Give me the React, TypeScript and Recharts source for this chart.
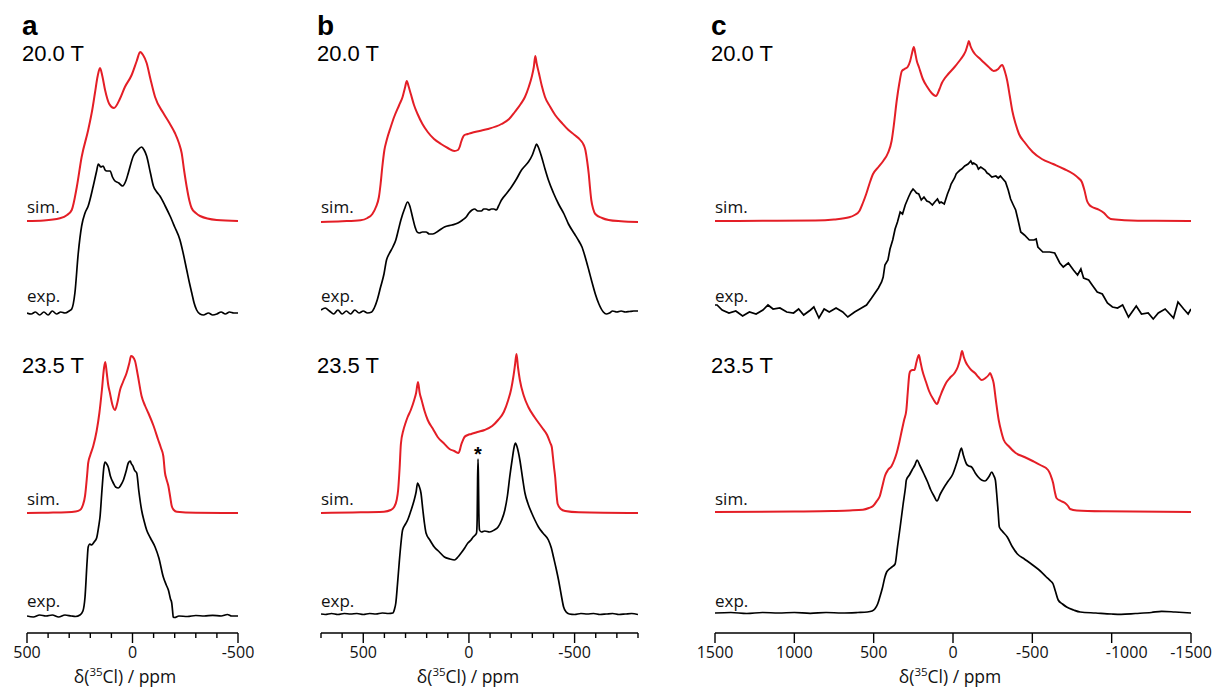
import { LineChart, Line, XAxis, YAxis, ReferenceDot } from 'recharts';

// [chemical shift in ppm, intensity in a.u.]
type Pt = [number, number];

const A_SIM_20: Pt[] = [
  [500, 0], [420, 0.5], [344, 2.7], [310, 6], [288, 11], [264, 34], [241, 64], [210, 91], [190, 112],
  [178, 128], [165, 145], [154, 153], [143, 145], [130, 131], [110, 117], [88, 113], [60, 122], [36, 134],
  [4, 146], [-20, 160], [-36, 169], [-50, 166], [-67, 158], [-85, 142], [-107, 124], [-146, 108],
  [-175, 98], [-201, 88], [-220, 78], [-233, 68], [-245, 50], [-257, 34], [-270, 20], [-280, 13],
  [-300, 8], [-320, 5], [-399, 1], [-500, 0],
];
const A_EXP_20: Pt[] = [
  [500, 0], [480, -1], [460, 1], [440, -2], [420, 1], [400, -2], [380, 2], [360, -1], [340, 1], [320, 0],
  [300, 2], [288, 4], [273, 20], [257, 60], [241, 87], [225, 100], [210, 107], [186, 127], [170, 142],
  [162, 149], [150, 146], [139, 147], [130, 143], [122, 142], [106, 142], [95, 136], [83, 132], [65, 130],
  [47, 127], [30, 133], [20, 140], [-4, 157], [-25, 163], [-43, 166], [-55, 163], [-67, 157], [-85, 140],
  [-99, 127], [-115, 121], [-130, 117], [-155, 107], [-178, 97], [-200, 86], [-225, 73], [-240, 60],
  [-257, 43], [-270, 30], [-281, 20], [-292, 10], [-304, 3], [-320, -1], [-336, -2], [-360, 0], [-380, -2],
  [-400, -1], [-420, 1], [-440, -1], [-460, 1], [-480, 0], [-500, 0],
];
const A_SIM_23: Pt[] = [
  [500, 0], [400, 0.3], [312, 0.7], [270, 1.5], [249, 3], [235, 8], [225, 17], [215, 38], [210, 50],
  [200, 58], [186, 67], [170, 82], [157, 100], [145, 123], [135, 145], [129, 151], [122, 140], [115, 128],
  [107, 120], [95, 108], [83, 103], [72, 110], [59, 123], [45, 131], [28, 140], [15, 150], [7, 157],
  [-2, 156], [-12, 152], [-25, 138], [-43, 117], [-60, 107], [-75, 100], [-100, 87], [-122, 73],
  [-135, 65], [-146, 57], [-154, 40], [-162, 33], [-170, 27], [-178, 17], [-186, 7], [-196, 3],
  [-210, 1.3], [-300, 0.3], [-500, 0],
];
const A_EXP_23: Pt[] = [
  [500, 0], [470, -1], [440, 1], [410, 0], [380, 1], [350, -1], [320, 1], [290, 0], [270, -0.5], [249, 1],
  [235, 5], [225, 19], [215, 55], [210, 69], [202, 72], [194, 71], [182, 74], [170, 78], [160, 90],
  [154, 99], [145, 125], [135, 150], [130, 154], [122, 152], [115, 149], [105, 140], [91, 133], [80, 129],
  [67, 128], [55, 131], [43, 136], [30, 145], [20, 153], [10, 155], [7, 153], [-2, 150], [-9, 146],
  [-20, 143], [-30, 125], [-43, 106], [-55, 95], [-67, 86], [-85, 78], [-107, 69], [-125, 58], [-146, 39],
  [-160, 31], [-170, 26], [-180, 17], [-186, 13], [-190, 5], [-193, -1], [-200, -1.5], [-220, 0],
  [-260, -0.5], [-300, 0.5], [-340, 0], [-380, 0.7], [-420, 0], [-450, 1.5], [-470, 0], [-500, 0],
];

const B_SIM_20: Pt[] = [
  [700, 0], [600, 0.7], [513, 1.7], [480, 4], [457, 8], [440, 15], [426, 25], [418, 38], [410, 55],
  [400, 72], [389, 82], [370, 95], [354, 105], [330, 117], [314, 125], [303, 134], [294, 141], [286, 136],
  [275, 128], [260, 117], [243, 108], [220, 98], [195, 90], [165, 83], [132, 78], [100, 74], [69, 71],
  [52, 72], [44, 75], [37, 80], [28, 85], [21, 87], [5, 88], [-11, 89], [-50, 91], [-90, 93], [-154, 98],
  [-190, 103], [-217, 110], [-245, 118], [-265, 125], [-283, 135], [-297, 145], [-307, 155], [-314, 166],
  [-320, 159], [-331, 149], [-345, 136], [-360, 125], [-385, 115], [-408, 107], [-440, 99], [-471, 92],
  [-500, 87], [-527, 82], [-543, 77], [-551, 72], [-560, 60], [-567, 48], [-573, 34], [-579, 22],
  [-588, 13], [-598, 8], [-630, 4], [-661, 2], [-720, 0.7], [-800, 0],
];
const B_EXP_20: Pt[] = [
  [700, 2], [680, 4], [660, 1], [640, -2], [620, 2], [600, -2], [580, 1], [560, -2], [540, 2], [520, -1],
  [500, 1], [480, -1], [460, 0], [448, 4], [434, 12], [418, 25], [402, 38], [390, 52], [378, 58],
  [360, 65], [346, 72], [334, 82], [322, 92], [305, 103], [290, 110], [280, 106], [267, 95], [255, 85],
  [245, 80], [235, 79], [220, 80], [203, 80], [187, 78], [171, 78], [145, 81], [116, 85], [80, 87],
  [52, 89], [30, 92], [13, 95], [0, 99], [-15, 102], [-27, 103], [-42, 101], [-59, 101], [-70, 103],
  [-82, 103], [-95, 102], [-106, 103], [-118, 103], [-130, 102], [-140, 106], [-154, 112], [-180, 119],
  [-201, 125], [-225, 133], [-249, 142], [-265, 146], [-281, 150], [-300, 157], [-312, 164], [-320, 168],
  [-328, 165], [-344, 155], [-360, 143], [-376, 132], [-400, 119], [-424, 108], [-450, 98], [-471, 88],
  [-500, 78], [-520, 71], [-535, 65], [-550, 55], [-567, 42], [-582, 30], [-598, 18], [-615, 8],
  [-636, 0], [-650, -2], [-665, -1], [-680, 1], [-700, 0], [-720, 1], [-740, 0], [-760, 0.5],
  [-780, 1], [-800, 1],
];
const B_SIM_23: Pt[] = [
  [700, 0], [550, 0.5], [402, 1.3], [370, 3], [354, 6], [342, 13], [335, 23], [328, 45], [322, 69],
  [310, 83], [300, 90], [290, 96], [275, 103], [259, 113], [250, 120], [241, 131], [233, 120], [224, 113],
  [210, 102], [195, 93], [170, 84], [148, 76], [120, 70], [92, 64], [70, 62], [49, 60], [43, 63], [37, 68],
  [28, 73], [21, 76], [5, 78], [-11, 79], [-40, 81], [-74, 83], [-110, 87], [-138, 93], [-165, 101],
  [-186, 113], [-200, 124], [-210, 136], [-218, 148], [-225, 159], [-232, 146], [-241, 133], [-260, 117],
  [-281, 106], [-310, 96], [-344, 86], [-370, 78], [-385, 70], [-392, 66], [-398, 55], [-403, 45],
  [-408, 36], [-414, 20], [-420, 9], [-435, 4], [-455, 2], [-520, 0.7], [-800, 0],
];
const B_EXP_23: Pt[] = [
  [700, 0], [680, -0.5], [650, 0.5], [620, -0.5], [590, 0.5], [560, 0], [530, 0.5], [500, -0.5],
  [470, 0.5], [440, 0], [410, 1], [380, 0.5], [360, 1], [352, 5], [346, 11], [338, 30], [330, 51],
  [322, 70], [314, 84], [300, 90], [290, 94], [275, 103], [259, 114], [250, 122], [243, 131], [236, 128],
  [227, 121], [218, 104], [210, 90], [203, 81], [185, 74], [164, 67], [140, 62], [116, 57], [90, 55],
  [69, 54], [52, 57], [37, 61], [20, 66], [5, 71], [-10, 74], [-20, 77], [-30, 79], [-36, 81], [-39, 95],
  [-41, 135], [-43, 155], [-45, 135], [-47, 100], [-50, 84], [-59, 82], [-75, 83], [-98, 82], [-120, 84],
  [-138, 87], [-155, 94], [-170, 104], [-182, 118], [-193, 137], [-205, 155], [-215, 168], [-220, 171],
  [-228, 167], [-241, 154], [-253, 137], [-265, 121], [-280, 110], [-297, 101], [-312, 94], [-329, 87],
  [-350, 81], [-376, 74], [-390, 66], [-400, 57], [-412, 46], [-424, 34], [-436, 20], [-448, 7],
  [-460, 2], [-475, 0], [-500, -0.5], [-530, 0.5], [-560, 0], [-590, 0.5], [-620, -0.5], [-650, 0],
  [-680, 0.5], [-710, -0.5], [-740, 0], [-770, 0.5], [-800, -0.5],
];

const C_SIM_20: Pt[] = [
  [1500, 0], [1200, 0.2], [868, 0.5], [750, 1.5], [654, 3.7], [620, 6], [590, 10], [568, 18], [547, 27],
  [525, 38], [504, 47], [470, 54], [440, 60], [410, 68], [387, 80], [372, 97], [355, 120], [338, 138],
  [322, 150], [305, 152], [286, 154], [270, 160], [258, 168], [247, 174], [238, 168], [228, 160],
  [215, 154], [190, 142], [162, 134], [135, 128], [108, 125], [85, 132], [70, 138], [55, 142], [30, 147],
  [-10, 154], [-40, 160], [-63, 165], [-80, 170], [-92, 176], [-100, 180], [-110, 175], [-125, 170],
  [-138, 167], [-165, 163], [-191, 159], [-225, 154], [-256, 150], [-285, 152], [-300, 155], [-310, 156],
  [-326, 150], [-342, 140], [-358, 125], [-374, 110], [-395, 97], [-416, 87], [-450, 79], [-502, 69],
  [-560, 62], [-631, 57], [-700, 52], [-759, 47], [-790, 43], [-812, 39], [-828, 31], [-845, 20],
  [-860, 16], [-877, 14], [-910, 12], [-952, 8], [-975, 4], [-994, 2], [-1080, 0.8], [-1165, 0.3],
  [-1500, 0],
];
const C_EXP_20: Pt[] = [
  [1500, 7], [1487, 7], [1455, 2], [1412, -1], [1369, 1], [1326, -4], [1283, 0], [1241, -2], [1198, 2],
  [1166, 7], [1134, 3], [1091, 4], [1048, 0], [1005, -1], [973, 3], [941, -3], [898, 2], [877, 5],
  [845, -6], [812, 3], [780, 0], [737, 4], [695, 0], [663, -5], [620, 0], [577, 4], [545, 7], [513, 14],
  [470, 24], [450, 30], [440, 35], [429, 47], [410, 52], [397, 63], [380, 72], [365, 83], [350, 90],
  [333, 100], [318, 98], [301, 107], [280, 115], [265, 120], [252, 123], [240, 121], [230, 119],
  [216, 118], [200, 112], [183, 115], [165, 111], [150, 110], [130, 107], [115, 110], [98, 113],
  [85, 109], [75, 110], [55, 108], [45, 113], [35, 118], [20, 124], [12, 128], [-10, 134], [-20, 138],
  [-31, 140], [-45, 142], [-55, 143], [-74, 146], [-95, 148], [-112, 151], [-122, 148], [-130, 149],
  [-149, 147], [-160, 143], [-175, 145], [-202, 142], [-215, 139], [-225, 138], [-245, 135],
  [-270, 136], [-285, 134], [-299, 136], [-315, 133], [-331, 130], [-348, 122], [-363, 113], [-380, 107],
  [-395, 102], [-410, 92], [-427, 80], [-450, 77], [-481, 72], [-510, 72], [-524, 73], [-535, 65],
  [-566, 60], [-609, 60], [-641, 59], [-673, 49], [-695, 45], [-727, 49], [-759, 42], [-785, 37],
  [-806, 43], [-823, 34], [-855, 32], [-877, 27], [-909, 20], [-941, 18], [-973, 9], [-1005, 5],
  [-1037, 4], [-1069, 7], [-1106, -5], [-1155, 6], [-1188, -2], [-1230, -1], [-1262, -7], [-1294, -1],
  [-1337, 3], [-1390, -6], [-1418, 10], [-1454, 3], [-1482, -2], [-1500, 3],
];
const C_SIM_23: Pt[] = [
  [1500, 0], [1000, 0.5], [761, 1], [650, 1.5], [568, 2.3], [530, 4], [504, 6], [480, 11], [461, 16],
  [445, 26], [429, 36], [410, 42], [387, 46], [370, 52], [355, 59], [338, 70], [322, 82], [308, 92],
  [294, 102], [285, 120], [275, 138], [268, 141], [255, 142], [243, 142], [230, 150], [215, 157],
  [205, 150], [194, 142], [170, 130], [151, 121], [125, 113], [101, 108], [85, 114], [65, 122],
  [44, 129], [20, 134], [-10, 139], [-30, 145], [-45, 153], [-57, 161], [-68, 155], [-80, 150],
  [-95, 146], [-115, 142], [-138, 139], [-160, 135], [-181, 132], [-205, 134], [-225, 137], [-234, 139],
  [-245, 135], [-256, 129], [-270, 112], [-288, 92], [-305, 80], [-320, 72], [-350, 66], [-395, 59],
  [-450, 55], [-502, 51], [-550, 47], [-599, 42], [-615, 37], [-631, 29], [-642, 20], [-652, 14],
  [-680, 11], [-706, 9], [-725, 6], [-738, 3], [-780, 1.5], [-952, 0.7], [-1500, 0],
];
const C_EXP_23: Pt[] = [
  [1500, 0], [1400, 0.5], [1300, -0.5], [1200, 0.5], [1100, 0], [1000, 0.5], [900, -0.3], [800, 0.5],
  [700, 0], [600, 0.5], [540, 1], [510, 2], [493, 4], [475, 9], [461, 16], [445, 25], [429, 36],
  [418, 41], [408, 43], [385, 46], [365, 49], [350, 66], [333, 86], [315, 108], [300, 125], [294, 133],
  [275, 138], [258, 143], [240, 148], [226, 153], [210, 148], [183, 139], [160, 131], [140, 123],
  [120, 117], [101, 112], [80, 119], [55, 126], [30, 132], [1, 139], [-15, 146], [-31, 154], [-45, 162],
  [-53, 165], [-65, 158], [-85, 149], [-100, 147], [-117, 146], [-140, 140], [-159, 136], [-180, 133],
  [-202, 132], [-225, 136], [-245, 141], [-255, 138], [-267, 133], [-275, 120], [-285, 100], [-292, 86],
  [-310, 82], [-342, 76], [-375, 66], [-406, 59], [-450, 54], [-502, 48], [-550, 42], [-588, 36],
  [-615, 32], [-631, 29], [-645, 22], [-663, 13], [-690, 9], [-716, 6], [-760, 3], [-802, 1], [-900, 0],
  [-1000, -1], [-1059, -1.3], [-1150, -0.5], [-1250, 0.5], [-1315, 1.7], [-1400, 1], [-1500, 0],
];

const A_TICKS = [500, 400, 300, 200, 100, 0, -100, -200, -300, -400, -500];
const B_TICKS = [700, 600, 500, 400, 300, 200, 100, 0, -100, -200, -300, -400, -500, -600, -700, -800];
const C_TICKS = [1500, 1000, 500, 0, -500, -1000, -1500];
const AB_LABELS = [500, 0, -500];
const C_LABELS = C_TICKS;

const FIELDS = ['20.0 T', '23.5 T'];
const TRACE_NAMES = ['sim.', 'exp.', 'sim.', 'exp.'];
const PANEL_LETTERS = ['a', 'b', 'c'];
const STAR_PPM = -43;
const STAR_HEIGHT = 155;

// layout
const W = 1212;
const H = 687;
const AXIS_Y = 633;
const M_L = 30;
const M_R = 30;
const RED = '#e41e26';
const FONT = '"Open Sans", "Noto Sans", sans-serif';
const FONT_HEAD = '"Liberation Sans", Arial, sans-serif';

interface Trace {
  points: Pt[];
  base: number;
  color: string;
  curve: 'monotone' | 'linear';
}

const toSeries = (pts: Pt[], base: number) => pts.map(([ppm, v]) => ({ ppm, y: base + v }));

const makeTick = (labels: number[], minor: number, shift: Record<string, number> = {}) =>
  (props: any) => {
    const { x, y, payload } = props;
    const v = payload.value as number;
    const major = labels.includes(v);
    return (
      <g>
        <line x1={x} x2={x} y1={y} y2={y + (major ? 10 : minor)} stroke="#000" strokeWidth={1.4} />
        {major && (
          <text x={x + (shift[String(v)] ?? 0)} y={y + 25} textAnchor="middle" fontSize={16}
            fontFamily={FONT} fill="#111">
            {v}
          </text>
        )}
      </g>
    );
  };

interface PanelProps {
  plotLeft: number;
  plotWidth: number;
  domain: [number, number];
  ticks: number[];
  labels: number[];
  minor: number;
  traces: Trace[];
  shift?: Record<string, number>;
  star?: { x: number; y: number };
}

function Panel({ plotLeft, plotWidth, domain, ticks, labels, minor, traces, shift, star }: PanelProps) {
  return (
    <div style={{ position: 'absolute', left: plotLeft - M_L, top: 0 }}>
      <LineChart
        width={plotWidth + M_L + M_R}
        height={H}
        margin={{ top: 0, right: M_R, bottom: 0, left: M_L }}
        style={{ overflow: 'visible' }}
      >
        <XAxis
          type="number"
          dataKey="ppm"
          domain={domain}
          reversed
          allowDataOverflow
          ticks={ticks}
          interval={0}
          height={H - AXIS_Y}
          tickSize={0}
          tickMargin={0}
          tickLine={false}
          axisLine={{ stroke: '#000', strokeWidth: 1.4 }}
          tick={makeTick(labels, minor, shift)}
        />
        <YAxis type="number" hide domain={[0, AXIS_Y]} allowDataOverflow />
        {traces.map((t, i) => (
          <Line
            key={i}
            data={toSeries(t.points, t.base)}
            dataKey="y"
            type={t.curve}
            stroke={t.color}
            strokeWidth={t.color === RED ? 2 : 1.7}
            dot={false}
            activeDot={false}
            isAnimationActive={false}
          />
        ))}
        {star && (
          <ReferenceDot
            x={star.x}
            y={star.y}
            r={0}
            label={{ value: '*', position: 'top', offset: -2, fontSize: 20, fontWeight: 700, fill: '#000', fontFamily: FONT_HEAD }}
          />
        )}
      </LineChart>
    </div>
  );
}

const PANELS = [
  {
    plotLeft: 27, plotWidth: 211, domain: [-500, 500] as [number, number], ticks: A_TICKS, labels: AB_LABELS, minor: 5,
    data: [A_SIM_20, A_EXP_20, A_SIM_23, A_EXP_23], bases: [412, 320, 120, 17], titleX: 125,
  },
  {
    plotLeft: 321, plotWidth: 317, domain: [-800, 700] as [number, number], ticks: B_TICKS, labels: AB_LABELS, minor: 5,
    data: [B_SIM_20, B_EXP_20, B_SIM_23, B_EXP_23], bases: [411, 321, 120, 19], titleX: 468,
  },
  {
    plotLeft: 715, plotWidth: 476, domain: [-1500, 1500] as [number, number], ticks: C_TICKS, labels: C_LABELS, minor: 10,
    data: [C_SIM_20, C_EXP_20, C_SIM_23, C_EXP_23], bases: [412, 321, 121, 20], titleX: 950,
    shift: { '-1000': 15 },
  },
];

const LABEL_Y = [213, 302, 505, 607];

export default function App() {
  return (
    <div style={{ position: 'absolute', left: 0, top: 0, width: W, height: H, background: '#fff' }}>
      {PANELS.map((p, pi) => (
        <Panel
          key={pi}
          plotLeft={p.plotLeft}
          plotWidth={p.plotWidth}
          domain={p.domain}
          ticks={p.ticks}
          labels={p.labels}
          minor={p.minor}
          shift={p.shift}
          traces={p.data.map((pts, i) => ({
            points: pts,
            base: p.bases[i],
            color: i % 2 === 0 ? RED : '#000',
            curve: pi === 2 && i === 1 ? 'linear' : 'monotone',
          }))}
          star={pi === 1 ? { x: STAR_PPM, y: p.bases[3] + STAR_HEIGHT } : undefined}
        />
      ))}
      <svg width={W} height={H} style={{ position: 'absolute', left: 0, top: 0, pointerEvents: 'none' }}>
        {PANELS.map((p, pi) => {
          const lx = pi === 0 ? 22 : p.plotLeft - 4;
          return (
            <g key={pi}>
              <text x={lx} y={35} fontSize={28} fontWeight={700} fontFamily={FONT_HEAD} fill="#000">
                {PANEL_LETTERS[pi]}
              </text>
              <text x={lx} y={61} fontSize={22} fontFamily={FONT_HEAD} fill="#000">{FIELDS[0]}</text>
              <text x={lx} y={373} fontSize={22} fontFamily={FONT_HEAD} fill="#000">{FIELDS[1]}</text>
              {TRACE_NAMES.map((n, i) => (
                <text key={i} x={p.plotLeft} y={LABEL_Y[i]} fontSize={17} fontFamily={FONT} fill="#111">{n}</text>
              ))}
              <text x={p.titleX} y={683} fontSize={17.5} fontFamily={FONT} textAnchor="middle" fill="#111">
                δ(<tspan fontSize={11.5} dy={-7}>35</tspan><tspan dy={7}>Cl) / ppm</tspan>
              </text>
            </g>
          );
        })}
      </svg>
    </div>
  );
}
